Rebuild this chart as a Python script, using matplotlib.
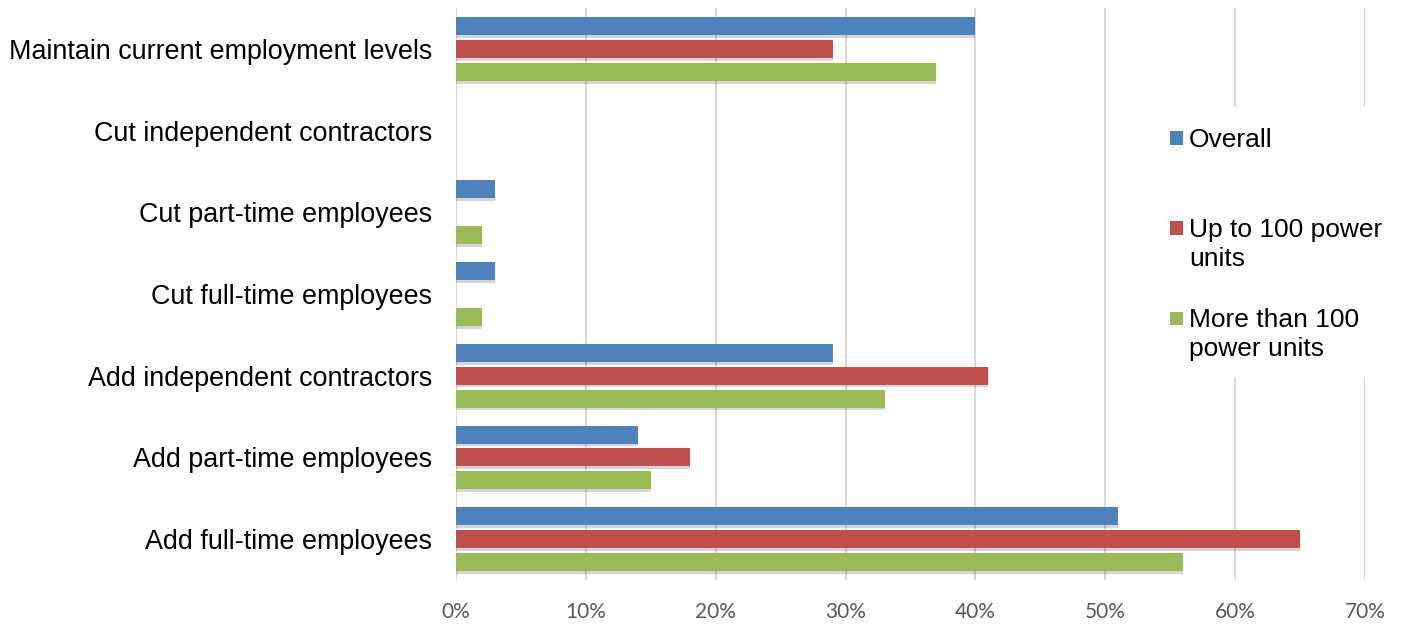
import matplotlib.pyplot as plt
import matplotlib.patheffects as pe
from matplotlib.patches import Rectangle
import numpy as np

# survey answers, top to bottom
categories = ['Maintain current employment levels',
              'Cut independent contractors',
              'Cut part-time employees',
              'Cut full-time employees',
              'Add independent contractors',
              'Add part-time employees',
              'Add full-time employees']
overall = [40, 0, 3, 3, 29, 14, 51]
up_to_100 = [29, 0, 0, 0, 41, 18, 65]
more_than_100 = [37, 0, 2, 2, 33, 15, 56]

series = [('Overall', overall, '#4f81bd'),
          ('Up to 100 power\nunits', up_to_100, '#c0504d'),
          ('More than 100\npower units', more_than_100, '#9bbb59')]

W, H = 1406, 627
fig = plt.figure(figsize=(W / 100, H / 100), dpi=100)
ax = fig.add_axes([456 / W, 1 - 580 / H, (1365 - 456) / W, 572 / H])

y = np.arange(len(categories))
shadow = [pe.SimplePatchShadow(offset=(0, -2), shadow_rgbFace='#000000', alpha=0.16), pe.Normal()]
for i, (name, vals, col) in enumerate(series):
    bars = ax.barh(y + (i - 1) * 0.28, vals, height=0.22, color=col, label=name, zorder=3)
    for b in bars:
        if b.get_width() > 0:
            b.set_path_effects(shadow)

ax.set_xlim(0, 70)
ax.set_ylim(6.5, -0.5)
ax.set_xticks(range(0, 71, 10))
ax.set_xticklabels([f'{v}%' for v in range(0, 71, 10)], fontsize=15, color='#595959', family='Lato')
ax.set_yticks(y)
ax.set_yticklabels(categories, fontsize=19.4, family='Liberation Sans', color='#000000')
ax.tick_params(length=0, axis='y', pad=17)
ax.tick_params(length=0, axis='x', pad=16)
ax.grid(axis='x', color='#d9d9d9', linewidth=1.5, zorder=0)
for s in ax.spines.values():
    s.set_visible(False)

# legend drawn by hand: white panel over the gridlines, square keys beside the first text line
fig.patches.append(Rectangle((1158 / W, 1 - 377 / H), 245 / W, 270 / H,
                             transform=fig.transFigure, facecolor='white',
                             edgecolor='none', zorder=4))
key_rows = [138, 228, 318]
for (name, _, col), ry in zip(series, key_rows):
    fig.patches.append(Rectangle((1170 / W, 1 - (ry + 6.5) / H), 13 / W, 13 / H,
                                 transform=fig.transFigure, facecolor=col,
                                 edgecolor='none', zorder=5))
    fig.text(1189 / W, 1 - (ry - 10) / H, name, fontsize=19, family='Liberation Sans',
             va='top', ha='left', linespacing=1.25, zorder=6)

fig.savefig('out.png', dpi=100)
